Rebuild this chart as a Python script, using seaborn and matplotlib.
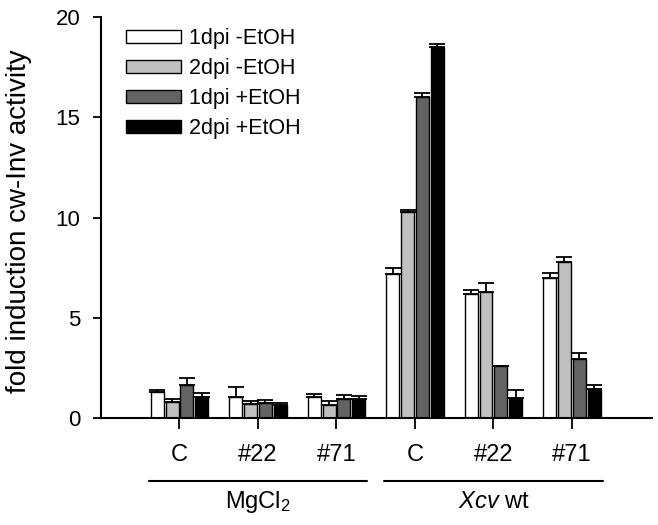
import numpy as np
import pandas as pd
import matplotlib
matplotlib.use("Agg")
import matplotlib.pyplot as plt
import matplotlib.transforms as mtransforms
import seaborn as sns

# x categories, two groups of three
treatments = ["MgCl2 C", "MgCl2 #22", "MgCl2 #71", "Xcv C", "Xcv #22", "Xcv #71"]
tick_labels = ["C", "#22", "#71", "C", "#22", "#71"]
group_labels = ["MgCl$_2$", "$\\it{Xcv}$ wt"]

series = ["1dpi -EtOH", "2dpi -EtOH", "1dpi +EtOH", "2dpi +EtOH"]
colors = ["white", "#c0c0c0", "#636363", "black"]

# bar heights
dpi1_minus = [1.30, 1.06, 1.05, 7.20, 6.17, 6.97]
dpi2_minus = [0.78, 0.68, 0.63, 10.27, 6.27, 7.80]
dpi1_plus = [1.65, 0.76, 0.96, 16.00, 2.58, 2.96]
dpi2_plus = [1.06, 0.65, 0.93, 18.52, 1.00, 1.47]

# upper error bars
err1_minus = [0.10, 0.47, 0.15, 0.28, 0.23, 0.28]
err2_minus = [0.18, 0.17, 0.23, 0.10, 0.46, 0.25]
err1_plus = [0.35, 0.12, 0.19, 0.20, 0.03, 0.27]
err2_plus = [0.17, 0.11, 0.18, 0.15, 0.41, 0.19]

values = [dpi1_minus, dpi2_minus, dpi1_plus, dpi2_plus]
errors = [err1_minus, err2_minus, err1_plus, err2_plus]

df = pd.DataFrame({
    "treatment": treatments * len(series),
    "series": np.repeat(series, len(treatments)),
    "value": np.concatenate(values),
})

sns.set_style("ticks", {"axes.edgecolor": "black", "text.color": "black",
                        "xtick.color": "black", "ytick.color": "black",
                        "axes.labelcolor": "black"})
plt.rcParams["font.family"] = ["Liberation Sans", "DejaVu Sans"]
plt.rcParams["mathtext.fontset"] = "custom"
plt.rcParams["mathtext.rm"] = "Liberation Sans"
plt.rcParams["mathtext.it"] = "Liberation Sans:italic"

fig = plt.figure(figsize=(6.58, 5.25), dpi=100)
ax = fig.add_axes([0.1535, 0.2038, 0.8374, 0.7638])

sns.barplot(data=df, x="treatment", y="value", hue="series",
            order=treatments, hue_order=series, palette=colors,
            width=0.76, gap=0.13, edgecolor="black", linewidth=1,
            errorbar=None, ax=ax)

# error bars on top of each bar
for cont, err in zip(ax.containers, errors):
    xs = [b.get_x() + b.get_width() / 2 for b in cont]
    hs = [b.get_height() for b in cont]
    ax.errorbar(xs, hs, yerr=[np.zeros(len(err)), err], fmt="none",
                ecolor="black", elinewidth=1.3, capsize=5.5, capthick=1.3)

ax.set_xlim(-1, 6.02)
ax.set_ylim(0, 20)
ax.set_yticks([0, 5, 10, 15, 20])
ax.set_xticks(range(len(treatments)))
ax.set_xticklabels(tick_labels)
ax.tick_params(axis="x", length=8, width=1.3, pad=11, labelsize=17)
ax.tick_params(axis="y", length=6, width=1.3, pad=9, labelsize=16)
ax.set_xlabel("")
ax.set_ylabel("fold induction cw-Inv activity", fontsize=20)
ax.yaxis.set_label_coords(-0.125, 0.49)
for s in ["left", "bottom"]:
    ax.spines[s].set_linewidth(1.5)
sns.despine(ax=ax)

# group brackets below tick labels
trans = mtransforms.blended_transform_factory(ax.transData, ax.transAxes)
for gi, lab in enumerate(group_labels):
    c = gi * 3 + 1
    ax.plot([c - 1.39, c + 1.39], [-0.156, -0.156], color="black", lw=1.5,
            transform=trans, clip_on=False)
    ax.text(c, -0.21, lab, transform=trans, ha="center", va="center",
            fontsize=17)

handles, labels = ax.get_legend_handles_labels()
ax.legend(handles[:4], labels[:4], loc="upper left",
          bbox_to_anchor=(0.045, 0.972), frameon=False, fontsize=15.5,
          handlelength=2.55, handleheight=0.56, handletextpad=0.4,
          labelspacing=0.42, borderpad=0, borderaxespad=0)

fig.savefig("out.png", dpi=100)
